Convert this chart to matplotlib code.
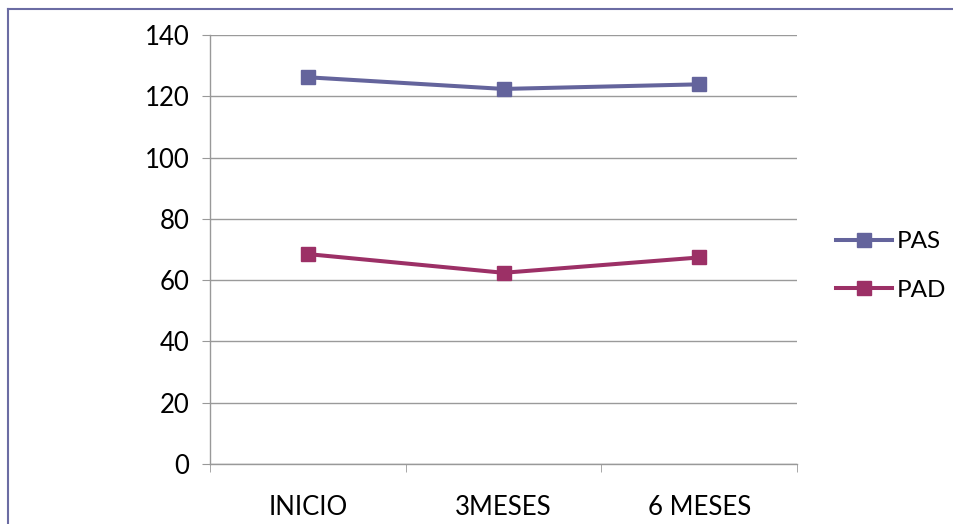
import matplotlib.pyplot as plt
from matplotlib.lines import Line2D

# categories and series
periodos = ['INICIO', '3MESES', '6 MESES']
pas = [126.2, 122.4, 123.9]
pad = [68.5, 62.4, 67.4]
y_ticks = [0, 20, 40, 60, 80, 100, 120, 140]

plt.rcParams['font.family'] = ['Lato', 'DejaVu Sans']

fig = plt.figure(figsize=(9.54, 5.24), dpi=100)
ax = fig.add_axes([210 / 954, 1 - 464 / 524, 587 / 954, 429 / 524])

x = list(range(len(periodos)))
ax.plot(x, pas, color='#64649c', lw=2.9, marker='s', ms=10,
        solid_joinstyle='miter', label='PAS')
ax.plot(x, pad, color='#9c3066', lw=2.9, marker='s', ms=10,
        solid_joinstyle='miter', label='PAD')

# axes
ax.set_xlim(-0.5, len(periodos) - 0.5)
ax.set_ylim(0, 140)
ax.set_yticks(y_ticks)
ax.set_xticks(x)
ax.set_xticklabels(periodos)
ax.set_xticks([i - 0.5 for i in range(len(periodos) + 1)], minor=True)
ax.tick_params(axis='x', which='major', length=0, pad=22, labelsize=18.5)
ax.tick_params(axis='x', which='minor', length=6, color='#999999')
ax.tick_params(axis='y', length=6, color='#999999', pad=9, labelsize=18.5)

ax.grid(axis='y', color='#9a9a9a', lw=1)
ax.set_axisbelow(True)
for s in ['top', 'right']:
    ax.spines[s].set_visible(False)
for s in ['left', 'bottom']:
    ax.spines[s].set_color('#999999')
    ax.spines[s].set_linewidth(1)

# legend
fig.legend(loc='center left', bbox_to_anchor=(836 / 954, 1 - 266 / 524),
           frameon=False, fontsize=17.5, handlelength=2.3, handletextpad=0.2,
           labelspacing=1.15, borderpad=0, borderaxespad=0)

# chart border
fig.add_artist(Line2D([8 / 954, 8 / 954], [0, 1 - 9 / 524], color='#6b6ca3', lw=1.5))
fig.add_artist(Line2D([8 / 954, 1], [1 - 9 / 524, 1 - 9 / 524], color='#6b6ca3', lw=1.5))

fig.savefig('out.png', dpi=100)
